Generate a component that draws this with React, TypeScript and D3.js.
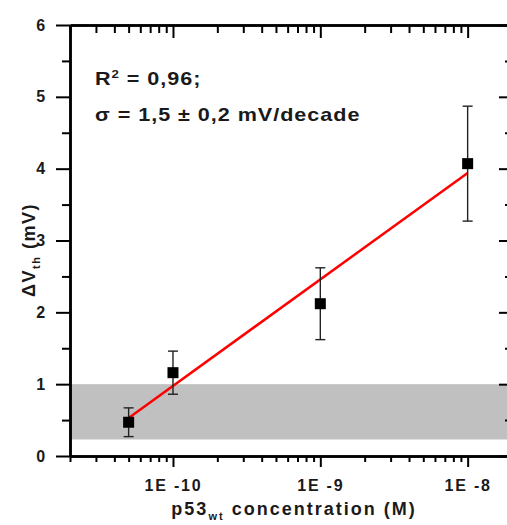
import React, { useEffect, useRef } from "react";
import * as d3 from "d3";

// concentration (M) and threshold shift (mV)
const concentrations = [5e-11, 1e-10, 1e-9, 1e-8];
const deltaV = [0.47, 1.16, 2.12, 4.07];
const deltaVErr = [0.2, 0.3, 0.5, 0.8];
// linear fit in log10(c)
const fitX = [5e-11, 1e-8];
const fitY = [0.53, 3.94];
// noise band
const bandLow = 0.23;
const bandHigh = 1.0;
const yTicks = [0, 1, 2, 3, 4, 5, 6];
const xDomain = [2e-11, 2e-8];
const yDomain = [0, 6];
const annotSigma = "σ = 1,5 ± 0,2 mV/decade";

const FONT = "'Liberation Sans', Arial, sans-serif";

export default function App() {
  const ref = useRef<SVGSVGElement | null>(null);

  useEffect(() => {
    const svg = d3.select(ref.current);
    svg.selectAll("*").remove();

    const margin = { left: 70, top: 25, right: 512, bottom: 456 };
    const x = d3.scaleLog().domain(xDomain).range([margin.left, margin.right]);
    const y = d3.scaleLinear().domain(yDomain).range([margin.bottom, margin.top]);

    // gray band
    svg
      .append("rect")
      .attr("x", x(xDomain[0]))
      .attr("y", y(bandHigh))
      .attr("width", x(xDomain[1]) - x(xDomain[0]))
      .attr("height", y(bandLow) - y(bandHigh))
      .attr("fill", "#c0c0c0");

    const allX = x.ticks();
    const isMajor = (v: number) => Math.abs(Math.log10(v) - Math.round(Math.log10(v))) < 1e-6;
    const majorX = allX.filter(isMajor);
    const minorX = allX.filter((v) => !isMajor(v));
    const minorY = d3.range(0.5, 6, 1);

    const styleAxis = (g: any) => {
      g.selectAll("path").attr("stroke", "#000").attr("stroke-width", 2.5);
      g.selectAll("line").attr("stroke", "#000").attr("stroke-width", 2);
      g.selectAll("text")
        .attr("fill", "#1a1a1a")
        .style("font-family", FONT)
        .style("font-size", "16px")
        .style("font-weight", "bold")
        .style("letter-spacing", "1.8px");
    };

    // bottom
    svg.append("g").attr("transform", `translate(0,${margin.bottom})`)
      .call(d3.axisBottom(x).tickValues(minorX).tickSize(6).tickSizeOuter(0).tickFormat(() => ""))
      .call(styleAxis);
    svg.append("g").attr("transform", `translate(0,${margin.bottom})`)
      .call(d3.axisBottom(x).tickValues(majorX).tickSize(11).tickSizeOuter(0).tickPadding(13)
        .tickFormat((d: any) => "1E" + String(Math.round(Math.log10(d))).replace("-", " -")))
      .call(styleAxis);
    // top
    svg.append("g").attr("transform", `translate(0,${margin.top})`)
      .call(d3.axisTop(x).tickValues(minorX).tickSize(-8).tickSizeOuter(0).tickFormat(() => ""))
      .call(styleAxis);
    svg.append("g").attr("transform", `translate(0,${margin.top})`)
      .call(d3.axisTop(x).tickValues(majorX).tickSize(-13).tickSizeOuter(0).tickFormat(() => ""))
      .call(styleAxis);
    // left
    svg.append("g").attr("transform", `translate(${margin.left},0)`)
      .call(d3.axisLeft(y).tickValues(minorY).tickSize(8).tickSizeOuter(0).tickFormat(() => ""))
      .call(styleAxis);
    svg.append("g").attr("transform", `translate(${margin.left},0)`)
      .call(d3.axisLeft(y).tickValues(yTicks).tickSize(14).tickSizeOuter(0).tickPadding(9).tickFormat(d3.format("d")))
      .call(styleAxis);
    // right
    svg.append("g").attr("transform", `translate(${margin.right},0)`)
      .call(d3.axisRight(y).tickValues(minorY).tickSize(-7).tickSizeOuter(0).tickFormat(() => ""))
      .call(styleAxis);
    svg.append("g").attr("transform", `translate(${margin.right},0)`)
      .call(d3.axisRight(y).tickValues(yTicks).tickSize(-13).tickSizeOuter(0).tickFormat(() => ""))
      .call(styleAxis);

    // fit line
    const fit = fitX.map((v, i) => [v, fitY[i]] as [number, number]);
    svg.append("path")
      .datum(fit)
      .attr("fill", "none")
      .attr("stroke", "#ff0000")
      .attr("stroke-width", 2.5)
      .attr("d", d3.line<[number, number]>().x((d) => x(d[0])).y((d) => y(d[1])));

    // error bars
    const pts = concentrations.map((c, i) => ({ c, v: deltaV[i], e: deltaVErr[i] }));
    const eb = svg.append("g").attr("stroke", "#222").attr("stroke-width", 1.4);
    pts.forEach((p) => {
      const cx = x(p.c);
      eb.append("line").attr("x1", cx).attr("x2", cx).attr("y1", y(p.v + p.e)).attr("y2", y(p.v - p.e));
      eb.append("line").attr("x1", cx - 5).attr("x2", cx + 5).attr("y1", y(p.v + p.e)).attr("y2", y(p.v + p.e));
      eb.append("line").attr("x1", cx - 5).attr("x2", cx + 5).attr("y1", y(p.v - p.e)).attr("y2", y(p.v - p.e));
    });

    // markers
    svg.append("g")
      .selectAll("rect")
      .data(pts)
      .join("rect")
      .attr("x", (d) => x(d.c) - 5.5)
      .attr("y", (d) => y(d.v) - 5.5)
      .attr("width", 11)
      .attr("height", 11)
      .attr("fill", "#000");

    // annotations (slightly stretched horizontally like the original)
    const annot = (ty: number) =>
      svg.append("text")
        .attr("transform", `translate(95,${ty}) scale(1.2,1)`)
        .style("font-family", FONT).style("font-size", "18px").style("font-weight", "bold")
        .style("letter-spacing", "0.8px")
        .attr("fill", "#1a1a1a");
    const r2 = annot(85);
    r2.append("tspan").text("R");
    r2.append("tspan").attr("dy", -7).style("font-size", "11px").text("2");
    r2.append("tspan").attr("dy", 7).text(" = 0,96;");
    annot(121).text(annotSigma);

    // x label
    const xl = svg.append("text")
      .attr("x", 294).attr("y", 515)
      .attr("text-anchor", "middle")
      .style("font-family", FONT).style("font-size", "18px").style("font-weight", "bold")
      .style("letter-spacing", "2px")
      .attr("fill", "#1a1a1a");
    xl.append("tspan").text("p53");
    xl.append("tspan").attr("dy", 5).style("font-size", "11px").text("wt");
    xl.append("tspan").attr("dy", -5).text(" concentration  (M)");

    // y label
    const yl = svg.append("text")
      .attr("transform", "translate(35,250) rotate(-90)")
      .attr("text-anchor", "middle")
      .style("font-family", FONT).style("font-size", "18px").style("font-weight", "bold")
      .style("letter-spacing", "1.5px")
      .attr("fill", "#1a1a1a");
    yl.append("tspan").text("ΔV");
    yl.append("tspan").attr("dy", 5).style("font-size", "11px").text("th");
    yl.append("tspan").attr("dy", -5).text(" (mV)");
  }, []);

  return (
    <svg
      ref={ref}
      width={507}
      height={525}
      style={{ position: "absolute", left: 0, top: 0, background: "#fff" }}
    />
  );
}
